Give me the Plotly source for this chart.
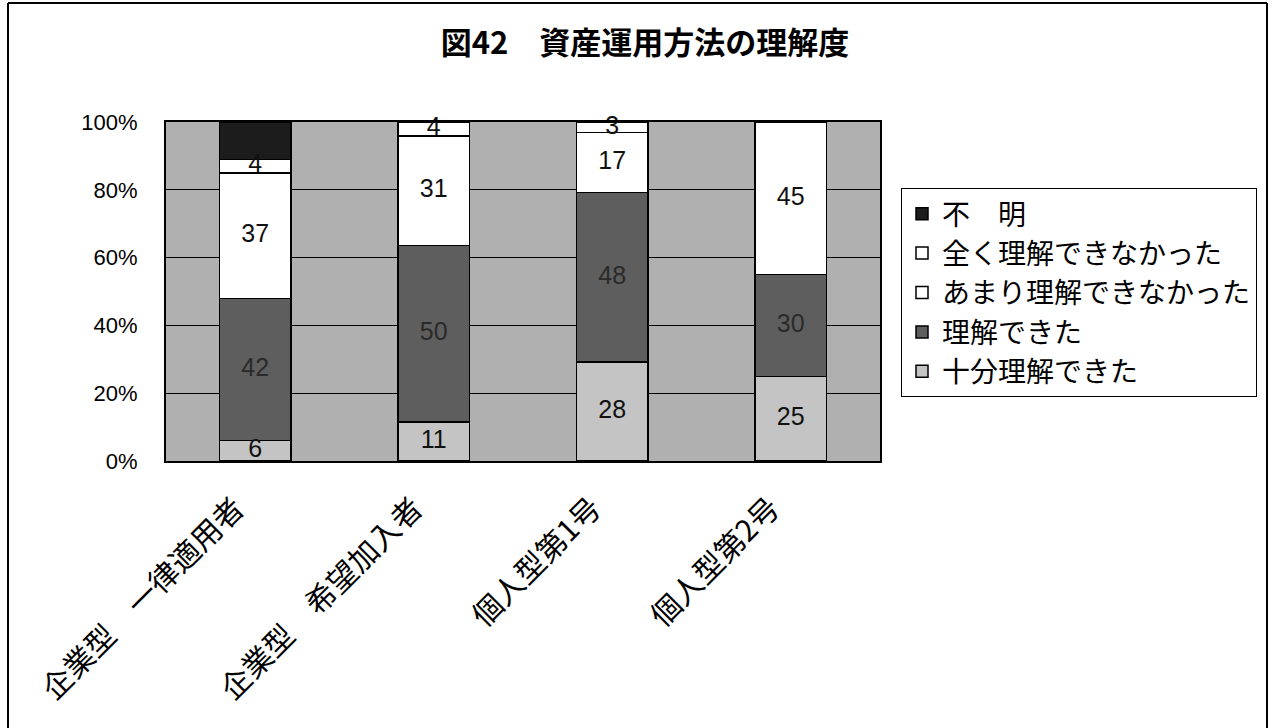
import plotly.graph_objects as go

# Survey categories (x axis)
categories = ["企業型　一律適用者", "企業型　希望加入者", "個人型第1号", "個人型第2号"]

# Response shares (%) per category, bottom to top of each stack
fully_understood = [6, 11, 28, 25]        # 十分理解できた
understood = [42, 50, 48, 30]             # 理解できた
not_really = [37, 31, 17, 45]             # あまり理解できなかった
not_at_all = [4, 4, 3, 0]                 # 全く理解できなかった
unknown = [11, 0, 0, 0]                   # 不明

series_names = ["十分理解できた", "理解できた", "あまり理解できなかった", "全く理解できなかった", "不　明"]
series_values = [fully_understood, understood, not_really, not_at_all, unknown]
series_colors = ["#c4c4c4", "#5e5e5e", "#ffffff", "#ffffff", "#1c1c1c"]
label_colors = ["#111111", "#2a2a2a", "#111111", "#111111", "#1c1c1c"]
show_labels = [True, True, True, True, False]

y_ticks = [0, 20, 40, 60, 80, 100]
y_tick_text = ["0%", "20%", "40%", "60%", "80%", "100%"]

FONT = "Liberation Sans, Noto Sans CJK JP, sans-serif"
JP_FONT = "Noto Sans CJK JP, sans-serif"

fig = go.Figure()
for name, vals, color in zip(series_names, series_values, series_colors):
    fig.add_trace(go.Bar(
        name=name,
        x=categories,
        y=vals,
        marker=dict(color=color, line=dict(color="black", width=1.5)),
        hoverinfo="name+y",
    ))

# Value labels at the middle of each segment of the 100% stacks
totals = [sum(col) for col in zip(*series_values)]
running = [0.0] * len(categories)
for vals, lcolor, show in zip(series_values, label_colors, show_labels):
    mids, texts = [], []
    for i, v in enumerate(vals):
        mids.append((running[i] + v / 2) / totals[i] * 100)
        texts.append(str(v) if (v and show) else "")
        running[i] += v
    fig.add_trace(go.Scatter(
        x=categories,
        y=mids,
        mode="text",
        text=texts,
        textposition="middle center",
        textfont=dict(family=FONT, size=25, color=lcolor),
        showlegend=False,
        hoverinfo="skip",
        cliponaxis=False,
    ))

# Plot area edges in pixels, used to place frame lines around the chart
W, H = 1274, 728
L, R, T, B = 166, 880, 122, 461


def px_x(px):
    return (px - L) / (R - L)


def px_y(py):
    return (B - py) / (B - T)


frame = dict(type="line", xref="paper", yref="paper", line=dict(color="black", width=2))
shapes = [
    dict(frame, x0=px_x(8), x1=px_x(8), y0=px_y(3), y1=px_y(740)),
    dict(frame, x0=px_x(8), x1=px_x(1267), y0=px_y(3), y1=px_y(3)),
    dict(frame, x0=px_x(1267), x1=px_x(1267), y0=px_y(3), y1=px_y(740)),
]

fig.update_layout(
    width=W,
    height=H,
    barmode="stack",
    barnorm="percent",
    bargap=0.6,
    margin=dict(l=L, r=W - R, t=T, b=H - B, pad=0),
    paper_bgcolor="white",
    plot_bgcolor="#b0b0b0",
    font=dict(family=FONT, color="black"),
    title=dict(
        text="図42　資産運用方法の理解度",
        x=645 / W,
        xanchor="center",
        y=1 - 43 / H,
        yanchor="middle",
        font=dict(family=JP_FONT, size=31, color="black", weight="bold"),
    ),
    xaxis=dict(
        tickangle=-45,
        tickfont=dict(family=JP_FONT, size=30, color="black"),
        showline=True,
        linecolor="black",
        linewidth=2,
        mirror=True,
        ticks="",
        showgrid=False,
        ticklabelstandoff=16,
        ticklabelshift=-20,
    ),
    yaxis=dict(
        range=[0, 100],
        tickvals=y_ticks,
        ticktext=y_tick_text,
        tickfont=dict(family=FONT, size=22, color="black"),
        showline=True,
        linecolor="black",
        linewidth=2,
        mirror=True,
        showgrid=True,
        gridcolor="black",
        gridwidth=1,
        zeroline=False,
        ticks="",
        ticklabelstandoff=22,
    ),
    legend=dict(
        x=px_x(901),
        xanchor="left",
        y=px_y(188),
        yanchor="top",
        traceorder="reversed",
        bgcolor="white",
        bordercolor="black",
        borderwidth=1,
        font=dict(family=JP_FONT, size=28, color="black"),
    ),
    shapes=shapes,
    showlegend=True,
)

fig.write_html("out.html")
